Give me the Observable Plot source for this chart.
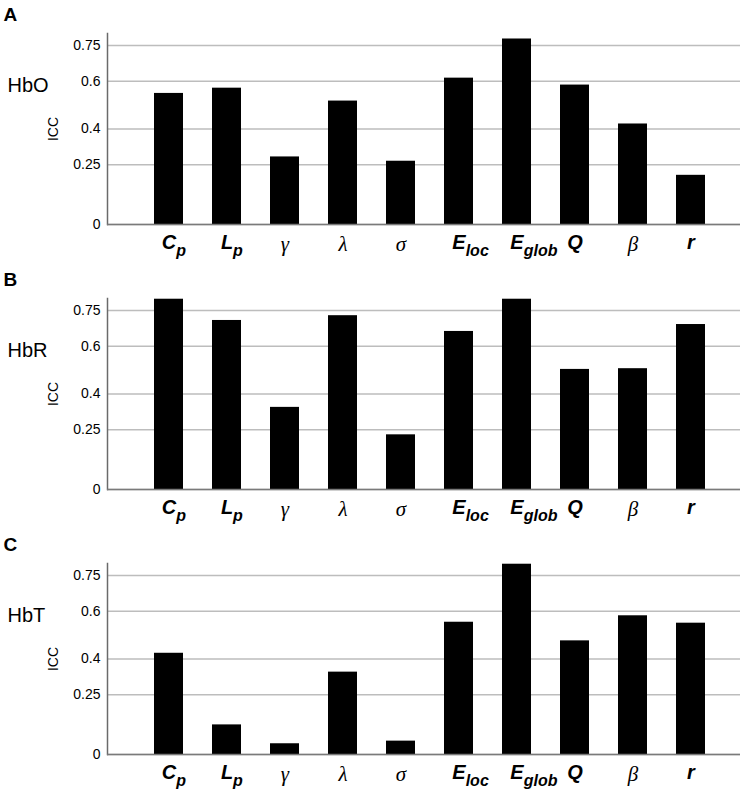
<!DOCTYPE html>
<html><head><meta charset="utf-8">
<script src="https://cdn.jsdelivr.net/npm/d3@7"></script>
<script src="https://cdn.jsdelivr.net/npm/@observablehq/plot@0.6"></script>
<style>
body{margin:0;background:#fff;font-family:"Liberation Sans",Arial,sans-serif;}
#chart{width:754px;}
#chart svg{display:block;}
</style></head><body><div id="chart"></div>
<script>
// categories (graph metrics) and their rendered labels
const metrics = ["Cp","Lp","gamma","lambda","sigma","Eloc","Eglob","Q","beta","r"];
const labelMain = ["C","L","γ","λ","σ","E","E","Q","β","r"];
const labelSub = ["p","p","","","","loc","glob","","",""];
const labelGreek = [false,false,true,true,true,false,false,false,true,false];

// ICC values per signal
const hbo = [0.549,0.571,0.283,0.517,0.265,0.613,0.777,0.584,0.421,0.206];
const hbr = [0.797,0.708,0.344,0.728,0.229,0.662,0.797,0.503,0.506,0.691];
const hbt = [0.424,0.124,0.045,0.345,0.056,0.554,0.797,0.476,0.581,0.550];

const panelLetters = ["A","B","C"];
const signalNames = ["HbO","HbR","HbT"];
const yTicks = [0,0.25,0.4,0.6,0.75];
const yTickLabels = ["0","0.25","0.4","0.6","0.75"];
const yMax = 0.8;

const SANS = '"Liberation Sans", Arial, sans-serif';
const SERIF = '"Liberation Serif", "Times New Roman", serif';
const container = document.getElementById("chart");

function panel(values, letter, name) {
  const data = metrics.map((m, i) => ({metric: m, icc: values[i]}));
  const plot = Plot.plot({
    width: 754, height: 265,
    marginTop: 33, marginBottom: 41, marginLeft: 107, marginRight: 14,
    style: {fontFamily: SANS, fontSize: "14px", color: "#000", background: "#fff"},
    x: {domain: metrics, padding: 0.5, insetLeft: 14, insetRight: 2, label: null},
    y: {domain: [0, yMax], label: "ICC"},
    marks: [
      Plot.gridY(yTicks, {stroke: "#bdbdbd", strokeOpacity: 1, strokeWidth: 1.5}),
      Plot.barY(data, {x: "metric", y: "icc", fill: "#000"}),
      Plot.axisY(yTicks, {tickSize: 0, tickPadding: 7, fontSize: 14,
        tickFormat: d => yTickLabels[yTicks.indexOf(d)],
        label: "ICC", labelAnchor: "center", labelArrow: false, labelOffset: 59}),
      Plot.axisX({tickSize: 0, tickPadding: 0, fontSize: 20, tickFormat: d => d, label: null}),
      Plot.frame({anchor: "left", stroke: "#6a6a6a", strokeWidth: 1.5}),
      Plot.ruleY([0], {stroke: "#7a7a7a", strokeWidth: 1.5}),
      Plot.text([letter], {frameAnchor: "top-left", lineAnchor: "middle", dx: -104, dy: -19,
        textAnchor: "start", fontWeight: "bold", fontSize: 19, fontFamily: SANS}),
      Plot.text([name], {frameAnchor: "top-left", lineAnchor: "middle", dx: -100, dy: 52,
        textAnchor: "start", fontSize: 20, fontFamily: SANS})
    ]
  });
  container.appendChild(plot);
  // rich x tick labels (subscripts, greek letters)
  d3.select(plot).selectAll('g[aria-label="x-axis tick label"] text').each(function() {
    const key = this.textContent;
    const i = metrics.indexOf(key);
    if (i < 0) return;
    const t = d3.select(this);
    t.text(null).attr("y", labelGreek[i] ? 26 : 24).attr("text-anchor", "start");
    const main = t.append("tspan").text(labelMain[i])
      .attr("font-family", labelGreek[i] ? SERIF : SANS)
      .attr("font-style", "italic")
      .attr("font-weight", labelGreek[i] ? "normal" : "bold")
      .attr("font-size", labelGreek[i] ? 21 : 20);
    if (labelSub[i]) {
      t.append("tspan").text(labelSub[i])
        .attr("font-family", SANS).attr("font-style", "italic").attr("font-weight", "bold")
        .attr("font-size", 16).attr("dy", 7);
    }
    const w = main.node().getComputedTextLength();
    t.attr("x", -w / 2);
  });
}

panel(hbo, panelLetters[0], signalNames[0]);
panel(hbr, panelLetters[1], signalNames[1]);
panel(hbt, panelLetters[2], signalNames[2]);
</script></body></html>
